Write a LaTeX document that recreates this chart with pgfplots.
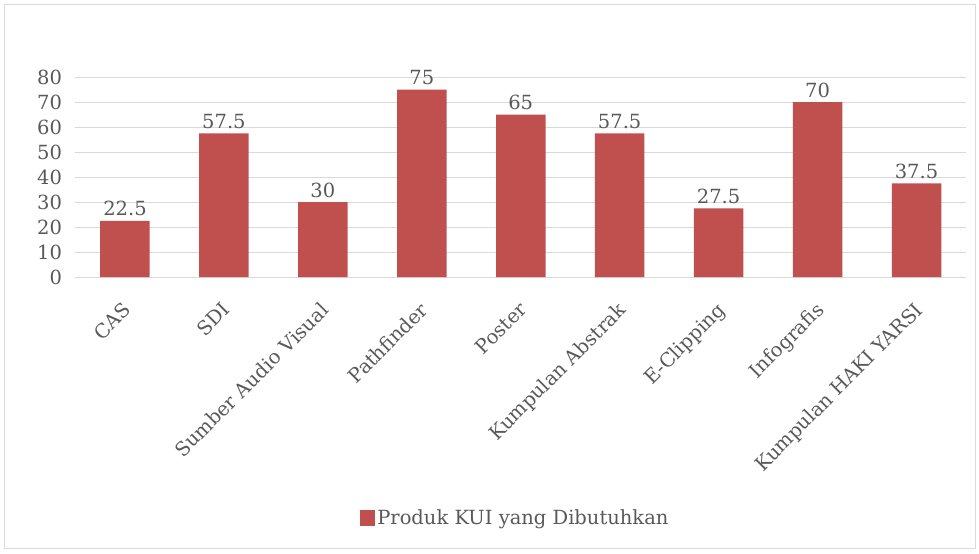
\documentclass[border=0pt]{standalone}
\usepackage{fontspec}
\setmainfont{DejaVu Serif}
\usepackage{pgfplots}
\pgfplotsset{compat=1.18}
\definecolor{barred}{HTML}{C0504D}
\definecolor{txt}{HTML}{595959}
\definecolor{grid}{HTML}{D9D9D9}
\begin{document}
\begin{tikzpicture}
\useasboundingbox (-75.5bp,-277bp) rectangle (903.5bp,277bp);
\draw[color=grid, line width=1bp] (-70.5bp,-271bp) rectangle (899.5bp,272bp);
\begin{axis}[
  at={(0,0)}, anchor=south west,
  scale only axis,
  width=890.5bp, height=200bp,
  xmin=-0.5, xmax=8.5,
  ymin=0, ymax=80,
  ytick={0,10,...,80},
  xtick=data,
  xticklabels={CAS,SDI,Sumber Audio Visual,Pathfinder,Poster,Kumpulan Abstrak,E-Clipping,Infografis,Kumpulan HAKI YARSI},
  axis x line*=bottom, axis y line*=left,
  axis line style={draw=none},
  ymajorgrids,
  grid style={color=grid, line width=0.8bp},
  major tick length=0pt,
  tick style={draw=none},
  tick label style={font=\fontsize{19.5bp}{22bp}\selectfont, text=txt},
  /pgf/number format/assume math mode=true,
  yticklabel style={xshift=-10bp},
  xticklabel style={rotate=45, anchor=north east, xshift=-15.6bp, yshift=-11.4bp},
  ybar, bar width=49.5bp,
  nodes near coords,
  nodes near coords style={font=\fontsize{19.5bp}{22bp}\selectfont, text=txt, yshift=1bp},
  legend style={at={(0.494,-1.205)}, anchor=center, draw=none, fill=none,
    font=\fontsize{19.5bp}{22bp}\selectfont, text=txt},
  legend image code/.code={\fill[barred] (-6bp,-7.5bp) rectangle (9bp,7.5bp);},
]
\draw[color=grid, line width=1bp] (axis cs:-0.5,0) -- (axis cs:8.5,0);
\addplot[fill=barred, draw=none] coordinates {
 (0,22.5) (1,57.5) (2,30) (3,75) (4,65) (5,57.5) (6,27.5) (7,70) (8,37.5)};
\addlegendentry{Produk KUI yang Dibutuhkan}
\end{axis}
\end{tikzpicture}
\end{document}
